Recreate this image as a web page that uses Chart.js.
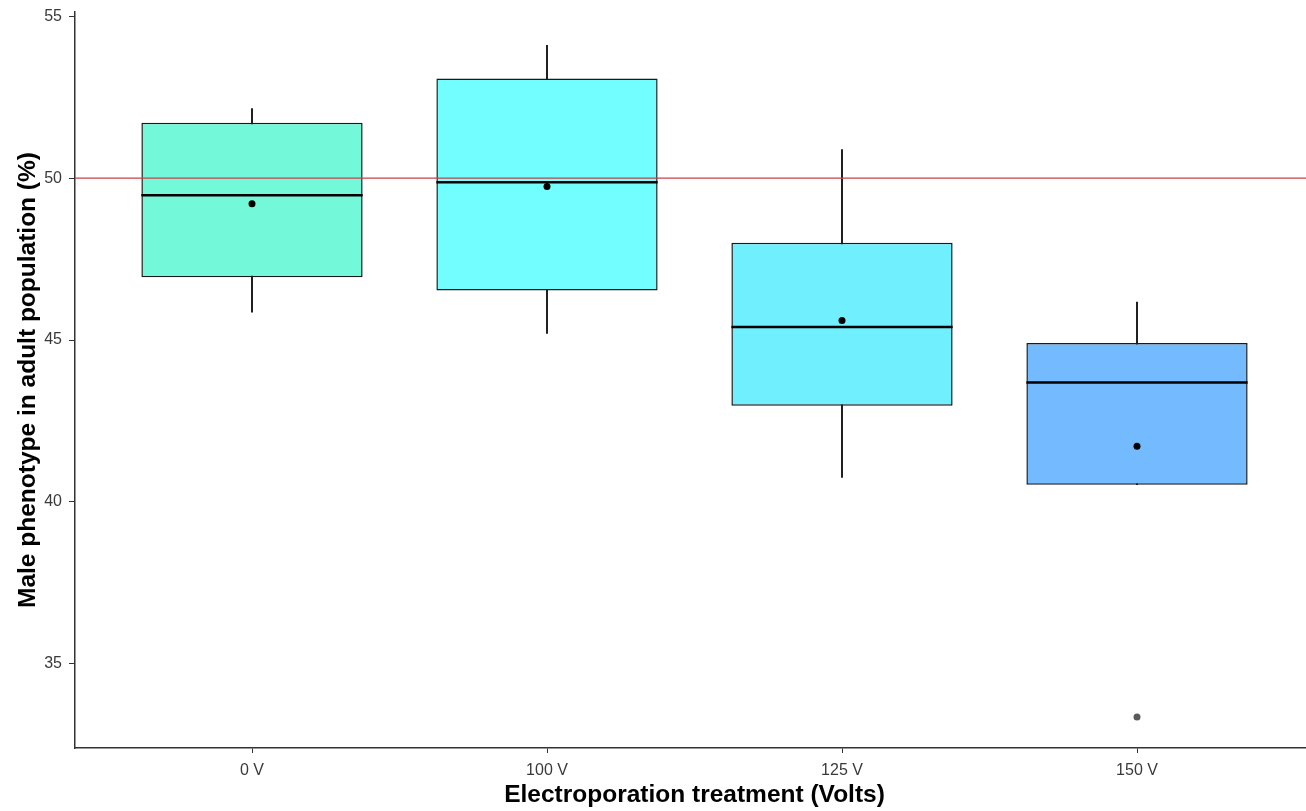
<!DOCTYPE html>
<html>
<head>
<meta charset="utf-8">
<script src="https://cdn.jsdelivr.net/npm/chart.js@4/dist/chart.umd.min.js"></script>
<style>
  html, body { margin: 0; padding: 0; background: #fff; overflow: hidden; }
  #wrap { width: 1318px; height: 811px; position: relative; }
</style>
</head>
<body>
<div id="wrap"><canvas id="c"></canvas></div>
<script>
// ---- data ----
const categories = ['0 V', '100 V', '125 V', '150 V'];
const whiskerLow  = [45.86, 45.20, 40.76, 40.53];
const q1          = [46.94, 46.53, 42.97, 40.53];
const median      = [49.47, 49.87, 45.40, 43.69];
const q3          = [51.71, 53.08, 48.00, 44.91];
const whiskerHigh = [52.15, 54.10, 50.88, 46.17];
const means       = [49.21, 49.74, 45.60, 41.72];
const outlierCat  = [4];
const outlierVal  = [33.36];
const referenceLine = 50;
const yTicks = [35, 40, 45, 50, 55];
const boxColors = ['#74F8DA', '#72FEFF', '#70F0FE', '#73BBFE'];

const pos = categories.map((_, i) => i + 1);

const medianPlugin = {
  id: 'medianPlugin',
  afterDatasetDraw(chart, args) {
    const ds = chart.data.datasets[args.index];
    if (ds.label !== 'box') return;
    const ctx = chart.ctx;
    const ys = chart.scales.y;
    ctx.save();
    ctx.strokeStyle = '#000';
    ctx.lineWidth = 2.6;
    args.meta.data.forEach((el, i) => {
      const p = el.getProps(['x', 'width'], true);
      const y = ys.getPixelForValue(median[i]);
      ctx.beginPath();
      ctx.moveTo(p.x - p.width / 2, y);
      ctx.lineTo(p.x + p.width / 2, y);
      ctx.stroke();
    });
    ctx.restore();
  }
};

const refLinePlugin = {
  id: 'refLinePlugin',
  afterDatasetsDraw(chart) {
    const ctx = chart.ctx;
    const a = chart.chartArea;
    const y = chart.scales.y.getPixelForValue(referenceLine);
    ctx.save();
    ctx.strokeStyle = '#C8404A';
    ctx.lineWidth = 1.4;
    ctx.beginPath();
    ctx.moveTo(a.left, y);
    ctx.lineTo(a.right, y);
    ctx.stroke();
    ctx.restore();
  }
};

new Chart(document.getElementById('c'), {
  type: 'bar',
  data: {
    datasets: [
      {
        label: 'whisker',
        type: 'bar',
        data: pos.map((x, i) => ({ x: x, y: [whiskerLow[i], whiskerHigh[i]] })),
        backgroundColor: '#111',
        barThickness: 1.2,
        grouped: false,
        order: 5
      },
      {
        label: 'box',
        type: 'bar',
        data: pos.map((x, i) => ({ x: x, y: [q1[i], q3[i]] })),
        backgroundColor: boxColors,
        borderColor: '#1a1a1a',
        borderWidth: 1.5,
        borderSkipped: false,
        barPercentage: 0.75,
        categoryPercentage: 1,
        grouped: false,
        order: 4
      },
      {
        label: 'mean',
        type: 'scatter',
        data: pos.map((x, i) => ({ x: x, y: means[i] })),
        backgroundColor: '#000',
        borderColor: '#000',
        pointRadius: 3.5,
        borderWidth: 0,
        showLine: false,
        order: 1
      },
      {
        label: 'outlier',
        type: 'scatter',
        data: outlierCat.map((x, i) => ({ x: x, y: outlierVal[i] })),
        backgroundColor: '#5a5a5a',
        borderColor: '#5a5a5a',
        pointRadius: 3.5,
        borderWidth: 0,
        showLine: false,
        order: 1
      }
    ]
  },
  options: {
    responsive: true,
    maintainAspectRatio: false,
    animation: false,
    layout: { padding: { left: 0, right: 0, top: 12, bottom: 0 } },
    plugins: { legend: { display: false }, tooltip: { enabled: false } },
    scales: {
      x: {
        type: 'linear',
        min: 0.4,
        max: 4.6,
        offset: false,
        afterBuildTicks(scale) { scale.ticks = pos.map(v => ({ value: v })); },
        afterFit(scale) { scale.height = 63; scale.paddingLeft = 0; scale.paddingRight = 0; },
        ticks: {
          callback: (v) => categories[v - 1],
          color: '#3a3a3a',
          font: { family: 'Liberation Sans, Arial, sans-serif', size: 16 },
          padding: 8,
          maxRotation: 0,
          autoSkip: false
        },
        grid: { display: true, offset: false, drawOnChartArea: false, drawTicks: true, tickLength: 5, color: '#333', lineWidth: 1 },
        border: { display: true, color: '#333', width: 1.5 },
        title: {
          display: true,
          text: 'Electroporation treatment (Volts)',
          color: '#000',
          font: { family: 'Liberation Sans, Arial, sans-serif', size: 24.5, weight: 'bold' },
          padding: { top: 0, bottom: 1 }
        }
      },
      y: {
        type: 'linear',
        min: 32.4,
        max: 55.13,
        afterBuildTicks(scale) { scale.ticks = yTicks.map(v => ({ value: v })); },
        afterFit(scale) { scale.width = 75; scale.paddingTop = 0; scale.paddingBottom = 0; },
        ticks: {
          color: '#3a3a3a',
          font: { family: 'Liberation Sans, Arial, sans-serif', size: 16 },
          padding: 7
        },
        grid: { display: true, drawOnChartArea: false, drawTicks: true, tickLength: 6, color: '#333', lineWidth: 1 },
        border: { display: true, color: '#333', width: 1.5 },
        title: {
          display: true,
          text: 'Male phenotype in adult population (%)',
          color: '#000',
          font: { family: 'Liberation Sans, Arial, sans-serif', size: 24.5, weight: 'bold' },
          padding: { top: 14, bottom: 0 }
        }
      }
    }
  },
  plugins: [medianPlugin, refLinePlugin]
});
</script>
</body>
</html>
